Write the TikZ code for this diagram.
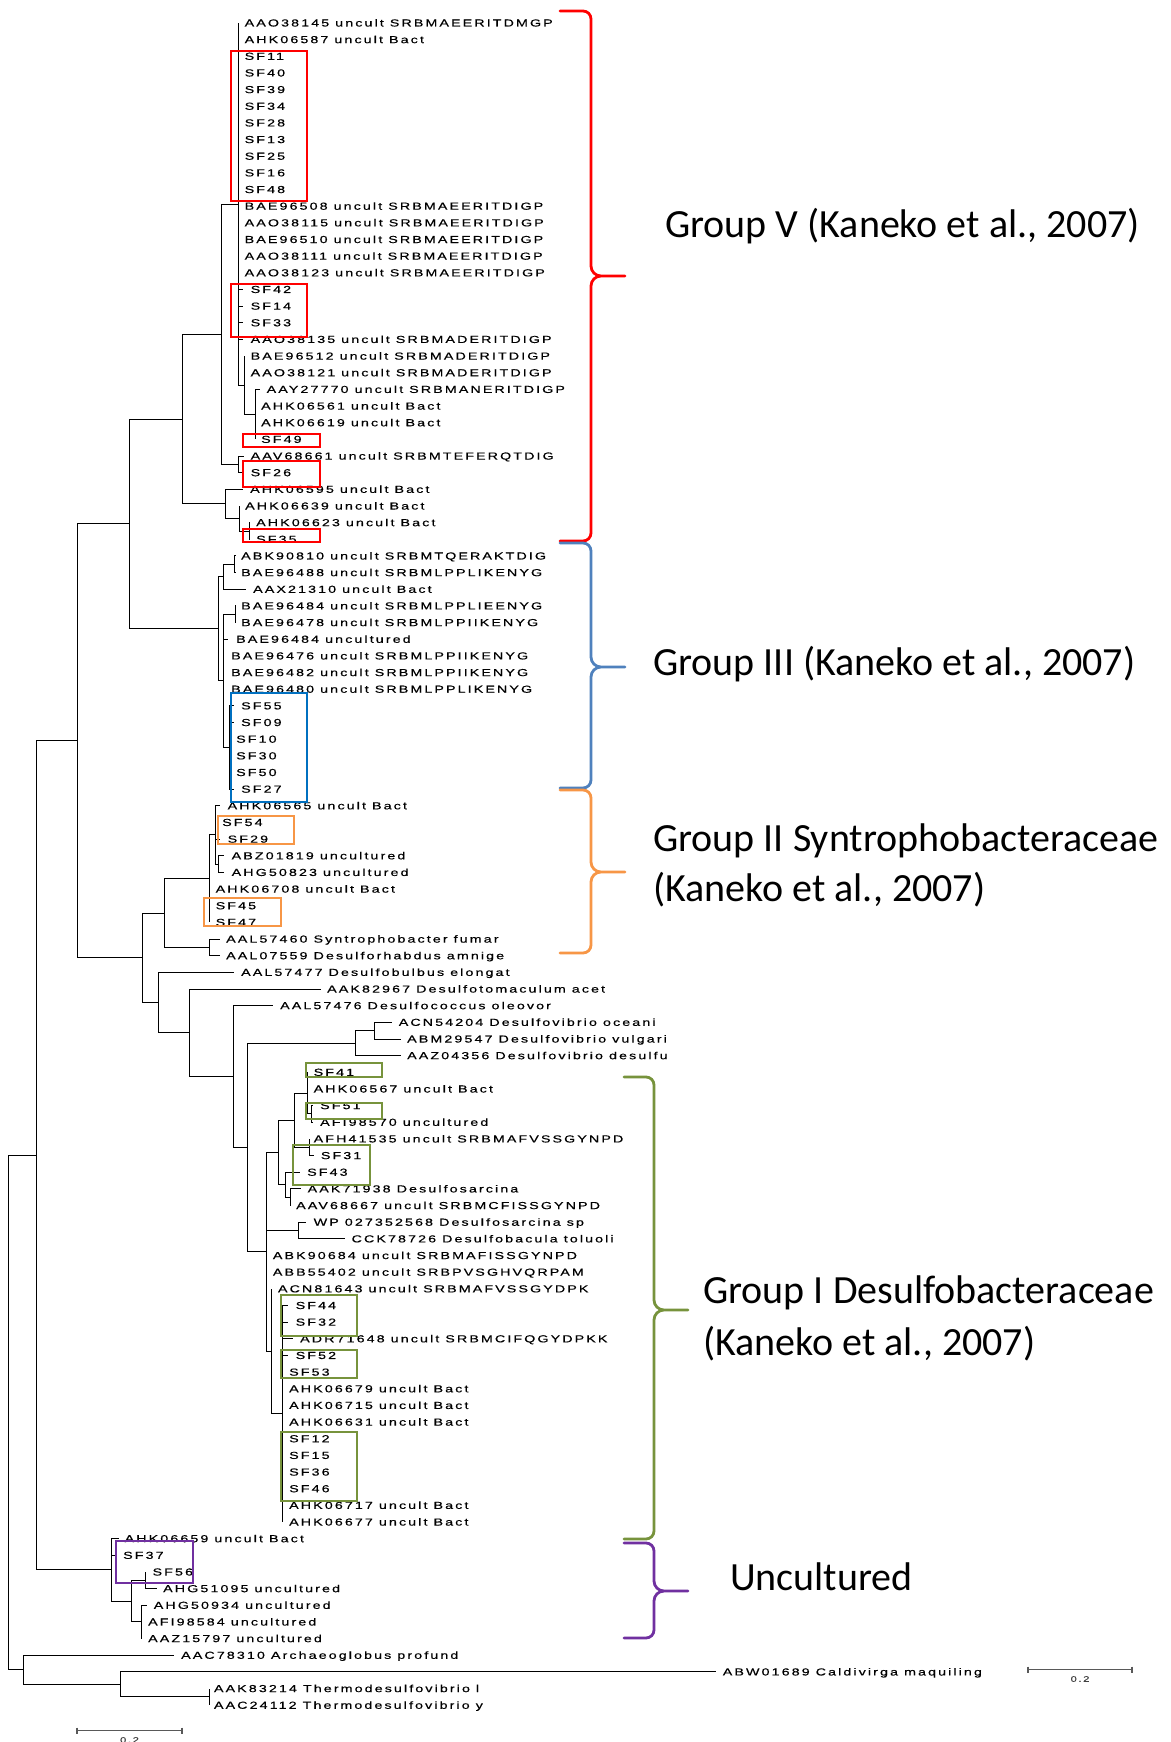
\documentclass[tikz,border=0pt]{standalone}
\usepackage{fontspec}
\setmainfont{Liberation Sans}
\newfontfamily\leaffont[FakeStretch=1.4,LetterSpace=20.5,FakeBold=0.4]{Liberation Sans}
\newfontfamily\headfont{Carlito}
\definecolor{cred}{RGB}{255,0,0}
\definecolor{cblue}{RGB}{79,129,189}
\definecolor{cbluebox}{RGB}{0,112,192}
\definecolor{corange}{RGB}{247,150,70}
\definecolor{cgreen}{RGB}{119,147,60}
\definecolor{cpurple}{RGB}{112,48,160}
\tikzset{
  br/.style={line width=1pt, black},
  leaf/.style={anchor=west, inner sep=0pt, text height=7pt, text depth=0pt, font=\leaffont\fontsize{10.2}{11}\selectfont},
  head/.style={anchor=base west, inner sep=0pt, font=\headfont\fontsize{40}{48.8}\selectfont},
  cbox/.style={line width=2pt},
  brc/.style={line width=2.8pt, line cap=round, line join=round},
  sbar/.style={line width=1.5pt, black!65},
  sblab/.style={inner sep=0pt, font=\leaffont\fontsize{8}{9}\selectfont, text=black!75},
}
\newcommand\leafnode[4]{\coordinate (l#1) at (#2,{yy(#1)}); \node[leaf] (t#1) at (#3,{yy(#1)}) {#4};}
\newcommand\innode[3]{\coordinate (#1) at (#2,{yy(#3)});}
\newcommand\mybrace[7]{%
  \draw[brc,#7] (#1,#4) -- ({#2-8},#4) to[out=0,in=90] (#2,{#4+8}) -- (#2,{#5-10})
    to[out=-90,in=180] ({#2+10},#5) -- (#3,#5)
    ({#2+10},#5) to[out=180,in=90] (#2,{#5+10}) -- (#2,{#6-8})
    to[out=-90,in=0] ({#2-8},#6) -- (#1,#6);}
\begin{document}
\begin{tikzpicture}[x=1pt,y=-1pt, declare function={yy(\i)=23+(\i-1)*16.656;}]
\fill[white] (0,0) rectangle (1170,1742);
\useasboundingbox (0,0) rectangle (1170,1742);

% ---------- leaves ----------
\leafnode{1}{238}{244.5}{AAO38145 uncult SRBMAEERITDMGP}
\leafnode{2}{238}{244.5}{AHK06587 uncult Bact}
\leafnode{3}{238}{244.5}{SF11}
\leafnode{4}{238}{244.5}{SF40}
\leafnode{5}{238}{244.5}{SF39}
\leafnode{6}{238}{244.5}{SF34}
\leafnode{7}{238}{244.5}{SF28}
\leafnode{8}{238}{244.5}{SF13}
\leafnode{9}{238}{244.5}{SF25}
\leafnode{10}{238}{244.5}{SF16}
\leafnode{11}{238}{244.5}{SF48}
\leafnode{12}{238}{244.5}{BAE96508 uncult SRBMAEERITDIGP}
\leafnode{13}{238}{244.5}{AAO38115 uncult SRBMAEERITDIGP}
\leafnode{14}{238}{244.5}{BAE96510 uncult SRBMAEERITDIGP}
\leafnode{15}{238}{244.5}{AAO38111 uncult SRBMAEERITDIGP}
\leafnode{16}{238}{244.5}{AAO38123 uncult SRBMAEERITDIGP}
\leafnode{17}{243}{250.5}{SF42}
\leafnode{18}{243}{250.5}{SF14}
\leafnode{19}{243}{250.5}{SF33}
\leafnode{20}{243}{250.5}{AAO38135 uncult SRBMADERITDIGP}
\leafnode{21}{244}{250.5}{BAE96512 uncult SRBMADERITDIGP}
\leafnode{22}{244}{250.5}{AAO38121 uncult SRBMADERITDIGP}
\leafnode{23}{260}{266.5}{AAY27770 uncult SRBMANERITDIGP}
\leafnode{24}{255}{261}{AHK06561 uncult Bact}
\leafnode{25}{255}{261}{AHK06619 uncult Bact}
\leafnode{26}{255}{261}{SF49}
\leafnode{27}{244}{250.5}{AAV68661 uncult SRBMTEFERQTDIG}
\leafnode{28}{244}{250.5}{SF26}
\leafnode{29}{243}{250}{AHK06595 uncult Bact}
\leafnode{30}{239}{245}{AHK06639 uncult Bact}
\leafnode{31}{250}{256}{AHK06623 uncult Bact}
\leafnode{32}{250}{256}{SF35}
\leafnode{33}{236}{241}{ABK90810 uncult SRBMTQERAKTDIG}
\leafnode{34}{236}{241}{BAE96488 uncult SRBMLPPLIKENYG}
\leafnode{35}{246}{253}{AAX21310 uncult Bact}
\leafnode{36}{236}{241}{BAE96484 uncult SRBMLPPLIEENYG}
\leafnode{37}{236}{241}{BAE96478 uncult SRBMLPPIIKENYG}
\leafnode{38}{228}{236}{BAE96484 uncultured}
\leafnode{39}{223.4}{231}{BAE96476 uncult SRBMLPPIIKENYG}
\leafnode{40}{223.4}{231}{BAE96482 uncult SRBMLPPIIKENYG}
\leafnode{41}{223.4}{231}{BAE96480 uncult SRBMLPPLIKENYG}
\leafnode{42}{234}{241}{SF55}
\leafnode{43}{234}{241}{SF09}
\leafnode{44}{229.4}{236}{SF10}
\leafnode{45}{229.4}{236}{SF30}
\leafnode{46}{229.4}{236}{SF50}
\leafnode{47}{234}{241}{SF27}
\leafnode{48}{220}{227.5}{AHK06565 uncult Bact}
\leafnode{49}{215.5}{222}{SF54}
\leafnode{50}{220}{227.5}{SF29}
\leafnode{51}{224}{231.5}{ABZ01819 uncultured}
\leafnode{52}{224}{231.5}{AHG50823 uncultured}
\leafnode{53}{209.2}{215.5}{AHK06708 uncult Bact}
\leafnode{54}{209.2}{215.5}{SF45}
\leafnode{55}{209.2}{215.5}{SF47}
\leafnode{56}{220}{226}{AAL57460 Syntrophobacter fumar}
\leafnode{57}{220}{226}{AAL07559 Desulforhabdus amnige}
\leafnode{58}{234}{241}{AAL57477 Desulfobulbus elongat}
\leafnode{59}{320.7}{327}{AAK82967 Desulfotomaculum acet}
\leafnode{60}{272.7}{280}{AAL57476 Desulfococcus oleovor}
\leafnode{61}{392}{398.6}{ACN54204 Desulfovibrio oceani}
\leafnode{62}{400.7}{407}{ABM29547 Desulfovibrio vulgari}
\leafnode{63}{400.7}{407}{AAZ04356 Desulfovibrio desulfu}
\leafnode{64}{307}{313.5}{SF41}
\leafnode{65}{307}{313.5}{AHK06567 uncult Bact}
\leafnode{66}{313}{320}{SF51}
\leafnode{67}{313}{320}{AFI98570 uncultured}
\leafnode{68}{309.3}{313.5}{AFH41535 uncult SRBMAFVSSGYNPD}
\leafnode{69}{314}{320.7}{SF31}
\leafnode{70}{300}{307}{SF43}
\leafnode{71}{301}{307.5}{AAK71938 Desulfosarcina}
\leafnode{72}{290.4}{296}{AAV68667 uncult SRBMCFISSGYNPD}
\leafnode{73}{306}{313.5}{WP 027352568 Desulfosarcina sp}
\leafnode{74}{345}{351.4}{CCK78726 Desulfobacula toluoli}
\leafnode{75}{266.4}{272.7}{ABK90684 uncult SRBMAFISSGYNPD}
\leafnode{76}{266.4}{272.7}{ABB55402 uncult SRBPVSGHVQRPAM}
\leafnode{77}{271.5}{277.8}{ACN81643 uncult SRBMAFVSSGYDPK}
\leafnode{78}{288}{295.5}{SF44}
\leafnode{79}{288}{295.5}{SF32}
\leafnode{80}{292.5}{300}{ADR71648 uncult SRBMCIFQGYDPKK}
\leafnode{81}{288}{295.5}{SF52}
\leafnode{82}{282}{289}{SF53}
\leafnode{83}{282}{289}{AHK06679 uncult Bact}
\leafnode{84}{282}{289}{AHK06715 uncult Bact}
\leafnode{85}{282}{289}{AHK06631 uncult Bact}
\leafnode{86}{282}{289}{SF12}
\leafnode{87}{282}{289}{SF15}
\leafnode{88}{282}{289}{SF36}
\leafnode{89}{282}{289}{SF46}
\leafnode{90}{282}{289}{AHK06717 uncult Bact}
\leafnode{91}{282}{289}{AHK06677 uncult Bact}
\leafnode{92}{119}{124.5}{AHK06659 uncult Bact}
\leafnode{93}{116}{123}{SF37}
\leafnode{94}{145}{152.4}{SF56}
\leafnode{95}{156.6}{163}{AHG51095 uncultured}
\leafnode{96}{147.3}{153.6}{AHG50934 uncultured}
\leafnode{97}{141.8}{148}{AFI98584 uncultured}
\leafnode{98}{141.8}{148}{AAZ15797 uncultured}
\leafnode{99}{173.8}{181}{AAC78310 Archaeoglobus profund}
\leafnode{100}{715.6}{722.6}{ABW01689 Caldivirga maquiling}
\leafnode{101}{209.2}{213.8}{AAK83214 Thermodesulfovibrio l}
\leafnode{102}{209.2}{213.8}{AAC24112 Thermodesulfovibrio y}

% ---------- internal nodes ----------
\innode{A}{255}{24.5}
\innode{B}{244}{22.75}
\innode{V1}{238}{11.875}
\innode{C}{238}{27.5}
\innode{P1}{221}{19.6875}
\innode{D3}{249}{31.5}
\innode{D2}{239}{30.75}
\innode{D}{225}{29.875}
\innode{Q}{182.5}{24.78125}
\innode{E2}{234}{33.5}
\innode{E1}{223.4}{34.25}
\innode{E4}{235}{36.5}
\innode{SFn}{229.4}{44.5}
\innode{E3}{223.4}{40.5}
\innode{G3}{218}{37.375}
\innode{R}{129}{31.078}
\innode{F3}{218}{51.5}
\innode{F1}{215.5}{49.75}
\innode{F}{209.2}{52.375}
\innode{F5}{209.2}{56.5}
\innode{N164}{164}{54.4375}
\innode{DV2}{374.6}{61.5}
\innode{DV}{355.6}{62.25}
\innode{S51}{311.5}{66.5}
\innode{S41}{307}{65.25}
\innode{S31n}{309.3}{68.5}
\innode{U1}{294}{66.875}
\innode{U3}{290.4}{71.5}
\innode{U2}{285.4}{70.75}
\innode{U}{278}{68.8125}
\innode{WPn}{298.8}{73.5}
\innode{GIc}{282}{84.5}
\innode{GIb}{271.5}{80.75}
\innode{GI}{266.4}{74.78125}
\innode{N247}{247.5}{68.516}
\innode{N233}{233.6}{64.258}
\innode{N189}{189}{61.629}
\innode{N158}{158}{59.815}
\innode{N142}{142}{57.126}
\innode{N77}{77}{44.102}
\innode{UC3}{145}{94.5}
\innode{UC4}{141.8}{97}
\innode{UC2}{131.7}{95.75}
\innode{UC}{111.5}{93.875}
\innode{Root2}{36.6}{68.99}
\innode{O3}{209.2}{101.5}
\innode{O2}{120}{100.75}
\innode{O1}{23}{99.875}
\innode{Root}{8.4}{84.43}

% ---------- branches ----------
\foreach \p/\c in {A/l23,A/l24,A/l25,A/l26, B/l21,B/l22,B/A,
  V1/l1,V1/l2,V1/l3,V1/l4,V1/l5,V1/l6,V1/l7,V1/l8,V1/l9,V1/l10,V1/l11,V1/l12,V1/l13,V1/l14,V1/l15,V1/l16,V1/l17,V1/l18,V1/l19,V1/l20,V1/B,
  C/l27,C/l28, P1/V1,P1/C, D3/l31,D3/l32, D2/l30,D2/D3, D/l29,D/D2, Q/P1,Q/D,
  E2/l33,E2/l34, E1/E2,E1/l35, E4/l36,E4/l37,
  SFn/l42,SFn/l43,SFn/l44,SFn/l45,SFn/l46,SFn/l47,
  E3/E4,E3/l38,E3/l39,E3/l40,E3/l41,E3/SFn, G3/E1,G3/E3, R/Q,R/G3,
  F3/l51,F3/l52, F1/l48,F1/l49,F1/l50,F1/F3, F/F1,F/l53,F/l54,F/l55,
  F5/l56,F5/l57, N164/F,N164/F5,
  DV2/l61,DV2/l62, DV/DV2,DV/l63,
  S51/l66,S51/l67, S41/l64,S41/l65,S41/S51, S31n/l68,S31n/l69, U1/S41,U1/S31n,
  U3/l71,U3/l72, U2/l70,U2/U3, U/U1,U/U2, WPn/l73,WPn/l74,
  GIc/l78,GIc/l79,GIc/l80,GIc/l81,GIc/l82,GIc/l83,GIc/l84,GIc/l85,GIc/l86,GIc/l87,GIc/l88,GIc/l89,GIc/l90,GIc/l91,
  GIb/l77,GIb/GIc, GI/U,GI/WPn,GI/l75,GI/l76,GI/GIb,
  N247/DV,N247/GI, N233/l60,N233/N247, N189/l59,N189/N233, N158/l58,N158/N189,
  N142/N164,N142/N158, N77/R,N77/N142,
  UC3/l94,UC3/l95, UC4/l96,UC4/l97,UC4/l98, UC2/UC3,UC2/UC4, UC/l92,UC/l93,UC/UC2,
  Root2/N77,Root2/UC, O3/l101,O3/l102, O2/l100,O2/O3, O1/l99,O1/O2, Root/Root2,Root/O1}
  {\draw[br] (\p) |- (\c);}

% ---------- highlight boxes ----------
\draw[cbox,cred] (230.5,51) rectangle (306.5,201);
\draw[cbox,cred] (230.5,283.5) rectangle (306.5,336.5);
\draw[cbox,cred] (243.3,434) rectangle (319.8,446.7);
\draw[cbox,cred] (243.3,460.7) rectangle (319.8,487.3);
\draw[cbox,cred] (243.3,529) rectangle (319.8,542.3);
\draw[cbox,cbluebox] (231,693.3) rectangle (306.7,802.3);
\draw[cbox,corange] (217.5,816) rectangle (294.4,844);
\draw[cbox,corange] (203.7,898.3) rectangle (280.7,926);
\draw[cbox,cgreen] (306,1062.7) rectangle (382.2,1077.3);
\draw[cbox,cgreen] (306,1103.3) rectangle (382.2,1119.3);
\draw[cbox,cgreen] (293.3,1145) rectangle (369.5,1185);
\draw[cbox,cgreen] (280.7,1295) rectangle (356.9,1335.7);
\draw[cbox,cgreen] (280.7,1350) rectangle (356.9,1377.7);
\draw[cbox,cgreen] (280.7,1432.3) rectangle (356.9,1500.7);
\draw[cbox,cpurple] (116.2,1541) rectangle (192.8,1582.7);

% ---------- braces ----------
\mybrace{560}{591}{625}{11}{276}{541}{cred}
\mybrace{560}{591}{625}{543}{667}{788}{cblue}
\mybrace{560}{591}{625}{790}{872}{953}{corange}
\mybrace{624}{654}{688}{1077}{1310}{1539}{cgreen}
\mybrace{624}{654}{688}{1543}{1591}{1638}{cpurple}

% ---------- group labels ----------
\node[head] (g5) at (665,237) {Group V (Kaneko et al., 2007)};
\node[head] (g3) at (653,675) {Group III (Kaneko et al., 2007)};
\node[head] (g2a) at (653,851.7) {Group II Syntrophobacteraceae};
\node[head] (g2b) at (653,901.7) {(Kaneko et al., 2007)};
\node[head] (g1a) at (703,1303) {Group I Desulfobacteraceae};
\node[head] (g1b) at (703,1355) {(Kaneko et al., 2007)};
\node[head] (unc) at (730,1590.6) {Uncultured};

% ---------- scale bars ----------
\coordinate (sa1) at (77,1730.5); \coordinate (sa2) at (182,1730.5);
\draw[sbar] (sa1) -- (sa2);
\draw[sbar] ([yshift=3pt]sa1) -- ([yshift=-3pt]sa1);
\draw[sbar] ([yshift=3pt]sa2) -- ([yshift=-3pt]sa2);
\node[sblab] (sal) at (129.5,1740) {0.2};
\coordinate (sb1) at (1028,1669.5); \coordinate (sb2) at (1132,1669.5);
\draw[sbar] (sb1) -- (sb2);
\draw[sbar] ([yshift=3pt]sb1) -- ([yshift=-3pt]sb1);
\draw[sbar] ([yshift=3pt]sb2) -- ([yshift=-3pt]sb2);
\node[sblab] (sbl) at (1080,1679) {0.2};
\end{tikzpicture}
\end{document}
